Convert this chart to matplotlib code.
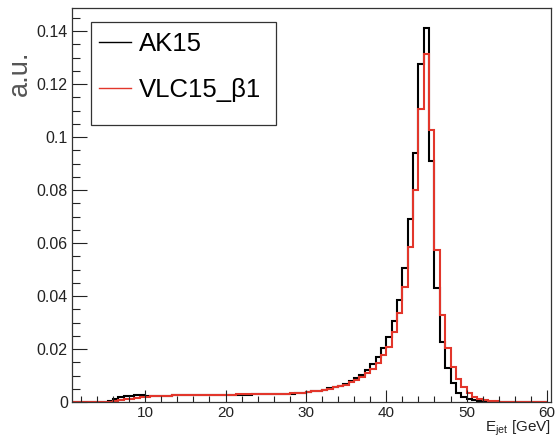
import numpy as np
import matplotlib
matplotlib.use("Agg")
import matplotlib.pyplot as plt
from matplotlib.lines import Line2D
from matplotlib.patches import Rectangle

plt.rcParams['font.family'] = ['Liberation Sans', 'DejaVu Sans']
plt.rcParams['mathtext.fontset'] = 'custom'
plt.rcParams['mathtext.rm'] = 'Liberation Sans'
plt.rcParams['mathtext.it'] = 'Liberation Sans:italic'

# histogram binning: 90 bins from 0 to 60 GeV
n_bins = 90
e_low, e_high = 0.0, 60.0

# AK15 bin contents
ak15 = [
    0, 0, 0, 0, 0, 0, 0, 0,
    0.0003, 0.0010, 0.0017, 0.0021, 0.0024, 0.0025, 0.0025,
    0.0024, 0.0024, 0.0024, 0.0024, 0.0024, 0.0025, 0.0025, 0.0025, 0.0025, 0.0025,
    0.0026, 0.0026, 0.0026, 0.0026, 0.0027, 0.0027, 0.0027, 0.0028, 0.0028, 0.0028,
    0.0029, 0.0029, 0.0029, 0.0030, 0.0030, 0.0031, 0.0031, 0.0032, 0.0033, 0.0034,
    0.0037, 0.0040, 0.0043, 0.0047, 0.0051, 0.0056, 0.0062, 0.0069, 0.0078, 0.0089,
    0.0103, 0.0121, 0.0143, 0.0171, 0.0204, 0.0246, 0.0307, 0.0385, 0.0505, 0.0690,
    0.0940, 0.1275, 0.1412, 0.0910, 0.0430, 0.0226, 0.0128, 0.0072, 0.0035, 0.0020,
    0.0012, 0.0006, 0.0003, 0.0001, 0.00005, 0, 0, 0, 0, 0,
    0, 0, 0, 0, 0,
]

# VLC15_beta1 bin contents
vlc15 = [
    0, 0, 0, 0, 0, 0, 0, 0,
    0.0001, 0.0004, 0.0007, 0.0010, 0.0013, 0.0016, 0.0018,
    0.0020, 0.0021, 0.0022, 0.0023, 0.0024, 0.0025, 0.0025, 0.0026, 0.0026, 0.0026,
    0.0027, 0.0027, 0.0027, 0.0027, 0.0028, 0.0028, 0.0028, 0.0029, 0.0029, 0.0029,
    0.0030, 0.0030, 0.0030, 0.0031, 0.0031, 0.0031, 0.0032, 0.0033, 0.0034, 0.0035,
    0.0037, 0.0040, 0.0043, 0.0046, 0.0050, 0.0055, 0.0060, 0.0066, 0.0074, 0.0083,
    0.0094, 0.0108, 0.0125, 0.0147, 0.0177, 0.0209, 0.0265, 0.0336, 0.0434, 0.0586,
    0.0800, 0.1105, 0.1315, 0.1026, 0.0574, 0.0328, 0.0204, 0.0133, 0.0088, 0.0056,
    0.0034, 0.0020, 0.0012, 0.0007, 0.0004, 0.0002, 0.0001, 0, 0, 0,
    0, 0, 0, 0, 0,
]

labels = ['AK15', 'VLC15_\u03b21']
colors = ['black', '#e2362b']

edges = np.linspace(e_low, e_high, n_bins + 1)

fig = plt.figure(figsize=(5.56, 4.38), dpi=100)
ax = fig.add_axes([72/556, 1 - 402/438, 479/556, 394/438])

ax.stairs(ak15, edges, color=colors[0], lw=1.5)
ax.stairs(vlc15, edges, color=colors[1], lw=1.5)

ax.set_xlim(0.9, 60.5)
ax.set_ylim(0, 0.1487)

ax.set_xticks([10, 20, 30, 40, 50, 60])
ax.set_xticks(np.arange(2, 61, 2), minor=True)
ax.set_yticks([0, 0.02, 0.04, 0.06, 0.08, 0.1, 0.12, 0.14])
ax.set_yticklabels(['0', '0.02', '0.04', '0.06', '0.08', '0.1', '0.12', '0.14'])
ax.set_yticks(np.arange(0, 0.146, 0.005), minor=True)

ax.tick_params(axis='x', which='major', direction='in', length=8.5, width=0.8,
               labelsize=11, pad=3, colors='#222222')
ax.tick_params(axis='x', which='minor', direction='in', length=4.3, width=0.8,
               colors='#222222')
ax.tick_params(axis='y', which='major', direction='in', length=10.8, width=0.8,
               labelsize=11.5, pad=3, colors='#222222')
ax.tick_params(axis='y', which='minor', direction='in', length=5.4, width=0.8,
               colors='#222222')
for s in ax.spines.values():
    s.set_color('#333333')
    s.set_linewidth(0.9)

# axis titles (ROOT style: at the far end of each axis)
fig.text(551/556, 1 - 431.5/438, 'E$_{\\mathrm{jet}}$ [GeV]', ha='right',
         va='baseline', fontsize=11, color='#222222')
fig.text(20/556, 1 - 51/438, 'a.u.', rotation=90, ha='center', va='top',
         fontsize=19.5, color='#555555')

# legend box
box = Rectangle(((91 - 72)/479, (402 - 125)/394), 185/479, 103/394,
                transform=ax.transAxes, facecolor='white', edgecolor='#333333',
                lw=0.9, zorder=5)
ax.add_patch(box)
handles = [Line2D([], [], color=c, lw=1.0) for c in colors]
leg = ax.legend(handles, labels, loc='upper left',
                bbox_to_anchor=((97 - 72)/479 - 0.012, (402 - 24)/394),
                frameon=False, fontsize=18.5, handlelength=1.25,
                handletextpad=0.3, labelspacing=0.85, borderpad=0.3,
                borderaxespad=0)
leg.set_zorder(6)

fig.savefig('out.png', dpi=100)
